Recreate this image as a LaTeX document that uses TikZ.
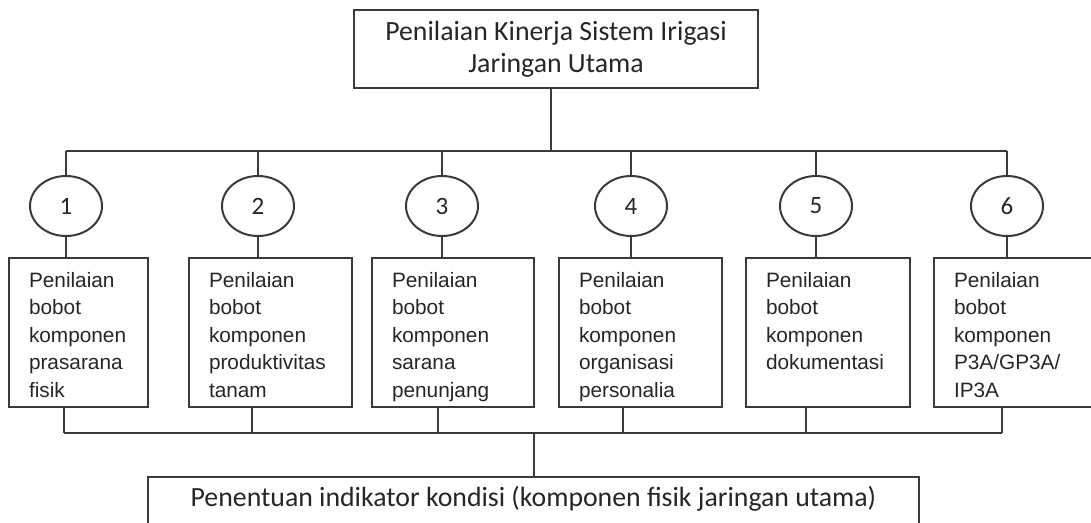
\documentclass[tikz,border=0pt]{standalone}
\usepackage{fontspec}
\setmainfont{Liberation Sans}
\newfontfamily\calfont{Carlito}
\usepackage{tikz}
\usetikzlibrary{shapes.geometric,positioning}
\definecolor{cLine}{HTML}{3A3A3A}
\definecolor{cText}{HTML}{262626}
\newcommand{\itemtext}[2]{\parbox[t][121pt][t]{#1pt}{\raggedright #2}}
\tikzset{
  head/.style={draw=cLine,line width=2pt,inner sep=0pt,align=center,text=cText,font=\calfont\fontsize{27.8}{32}\selectfont},
  num/.style={ellipse,draw=cLine,line width=2pt,inner sep=0pt,minimum width=72pt,minimum height=60pt,text=cText,font=\calfont\fontsize{25}{25}\selectfont},
  item/.style={draw=cLine,line width=2pt,anchor=north west,inner xsep=20pt,inner ysep=14pt,text=cText,font=\fontsize{20.8}{27.5}\selectfont},
  link/.style={cLine,line width=2pt},
}

\begin{document}
\begin{tikzpicture}[x=1pt,y=-1pt]
  \useasboundingbox (0,0) rectangle (1091,522);
  % top box
  \node[head,minimum width=404pt,minimum height=78pt] (top) at (556,49) {Penilaian Kinerja Sistem Irigasi\\Jaringan Utama};
  % numbered circles
  \node[num] (c1) at (66,206) {1};
  \node[num] (c2) at (258,206) {2};
  \node[num] (c3) at (442,206) {3};
  \node[num] (c4) at (631,206) {4};
  \node[num] (c5) at (816,206) {5};
  \node[num] (c6) at (1007,206) {6};
  % component boxes
  \node[item] (b1) at (8,257) {\itemtext{99}{Penilaian\\bobot\\komponen\\prasarana\\fisik}};
  \node[item] (b2) at (188,257) {\itemtext{123}{Penilaian\\bobot\\komponen\\produktivitas\\tanam}};
  \node[item] (b3) at (371,257) {\itemtext{122}{Penilaian\\bobot\\komponen\\sarana\\penunjang}};
  \node[item] (b4) at (558,257) {\itemtext{123}{Penilaian\\bobot\\komponen\\organisasi\\personalia}};
  \node[item] (b5) at (745,257) {\itemtext{124}{Penilaian\\bobot\\komponen\\dokumentasi}};
  \node[item] (b6) at (933,257) {\itemtext{123}{Penilaian\\bobot\\komponen\\P3A/GP3A/\\IP3A}};
  % bottom box
  \node[head,anchor=north,minimum width=771pt,text height=29pt,text depth=40pt] (bot) at (533.5,476) {Penentuan indikator kondisi (komponen fisik jaringan utama)};
  % upper bus
  \coordinate (busU) at (551,151);
  \draw[link] (top.south -| busU) -- (busU);
  \draw[link] (c1 |- busU) -- (c6 |- busU);
  \foreach \i in {1,...,6}{
    \draw[link] (c\i.north) -- (c\i |- busU);
    \draw[link] (c\i.south) -- (c\i |- b\i.north);
  }
  % lower bus
  \foreach \i/\x in {1/64,2/252,3/438,4/623,5/806,6/1002}{
    \coordinate (d\i) at (\x,433);
    \draw[link] (b\i.south -| d\i) -- (d\i);
  }
  \draw[link] (d1) -- (d6);
  \draw[link] (bot.north) -- (bot.north |- d1);
\end{tikzpicture}
\end{document}
